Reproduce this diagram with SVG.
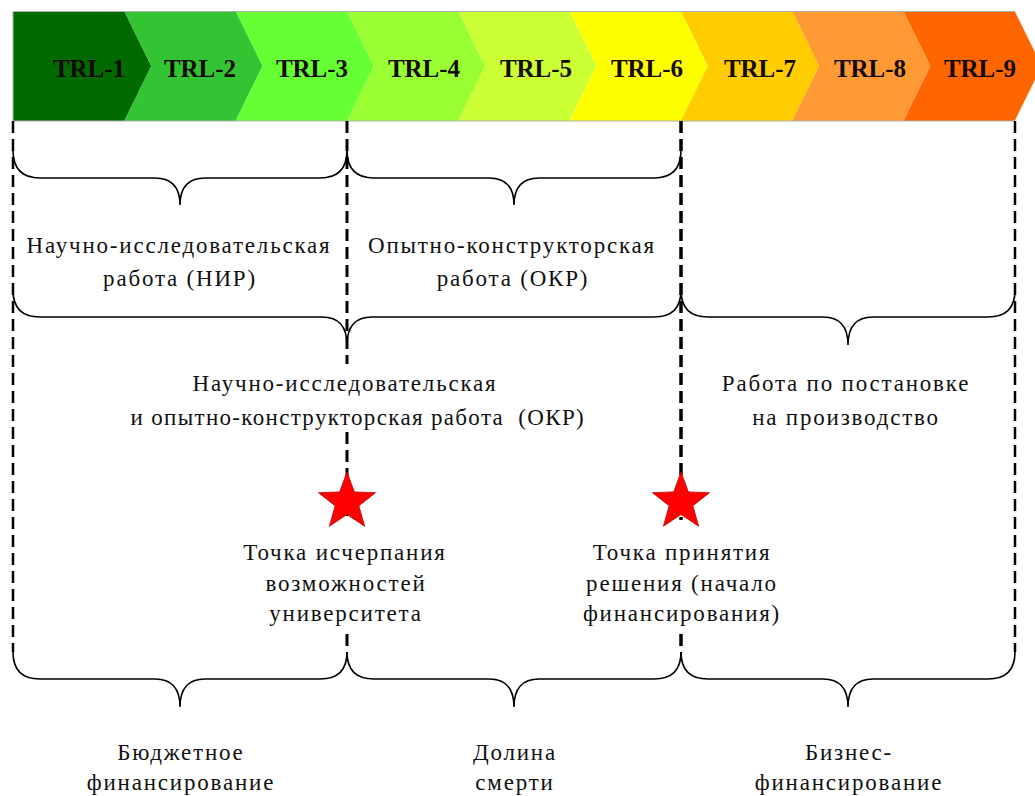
<svg xmlns="http://www.w3.org/2000/svg" width="1035" height="796" viewBox="0 0 1035 796">
<style>
.trl{font-family:'Liberation Serif','Times New Roman',serif;font-size:25px;font-weight:bold;fill:#140a00;text-anchor:middle}
.lbl{font-family:'Liberation Serif','Times New Roman',serif;font-size:23px;letter-spacing:1.8px;fill:#111;text-anchor:middle}
.dash{fill:none;stroke:#000;stroke-dasharray:12 6}
.brace{fill:none;stroke:#000;stroke-width:1.6}
.star{fill:#ff0000;stroke:#c00000;stroke-width:0.8}
</style>
<defs>
<polygon id="starShape" points="0,-30 7.35,-10.11 28.53,-9.27 11.89,3.86 17.63,24.27 0,12.5 -17.63,24.27 -11.89,3.86 -28.53,-9.27 -7.35,-10.11"/>
</defs>
<rect width="1035" height="796" fill="#fff"/>
<g id="band">
<g id="trl-1"><polygon points="13,11 124.3,11 151.3,66 124.3,121 13,121" fill="#006a00"/><text class="trl" x="89" y="77">TRL-1</text></g>
<g id="trl-2"><polygon points="124.3,11 235.6,11 262.6,66 235.6,121 124.3,121 151.3,66" fill="#33c433"/><text class="trl" x="200" y="77">TRL-2</text></g>
<g id="trl-3"><polygon points="235.6,11 346.9,11 373.9,66 346.9,121 235.6,121 262.6,66" fill="#66ff33"/><text class="trl" x="312" y="77">TRL-3</text></g>
<g id="trl-4"><polygon points="346.9,11 458.2,11 485.2,66 458.2,121 346.9,121 373.9,66" fill="#99ff33"/><text class="trl" x="424" y="77">TRL-4</text></g>
<g id="trl-5"><polygon points="458.2,11 569.5,11 596.5,66 569.5,121 458.2,121 485.2,66" fill="#ccff33"/><text class="trl" x="536" y="77">TRL-5</text></g>
<g id="trl-6"><polygon points="569.5,11 680.8,11 707.8,66 680.8,121 569.5,121 596.5,66" fill="#ffff00"/><text class="trl" x="647" y="77">TRL-6</text></g>
<g id="trl-7"><polygon points="680.8,11 792.1,11 819.1,66 792.1,121 680.8,121 707.8,66" fill="#ffcc00"/><text class="trl" x="760" y="77">TRL-7</text></g>
<g id="trl-8"><polygon points="792.1,11 903.4,11 930.4,66 903.4,121 792.1,121 819.1,66" fill="#ff9933"/><text class="trl" x="870" y="77">TRL-8</text></g>
<g id="trl-9"><polygon points="903.4,11 1014.7,11 1041.7,66 1014.7,121 903.4,121 930.4,66" fill="#ff6600"/><text class="trl" x="980" y="77">TRL-9</text></g>
<path d="M13,121 V11.5 H1015 M13,121 H1015" fill="none" stroke="#b0b0b0" stroke-width="1"/>
</g>
<g id="connectors">
<path class="dash" stroke-width="2.5" d="M13,121 V652"/>
<path class="dash" stroke-width="3" d="M347,121 V364 M347,432 V520 M347,634 V652"/>
<path class="dash" stroke-width="3.5" d="M681,121 V520 M681,634 V652"/>
<path class="dash" stroke-width="2.5" d="M1015,121 V652"/>
<path class="brace" d="M13,150 Q13,178 40,178 H155 Q180,178 180,205 Q180,178 205,178 H320 Q347,178 347,150"/>
<path class="brace" d="M347,150 Q347,178 374,178 H489 Q514,178 514,205 Q514,178 539,178 H654 Q681,178 681,150"/>
<path class="brace" d="M13,290 Q13,317 40,317 H322 Q347,317 347,345 Q347,317 372,317 H654 Q681,317 681,290"/>
<path class="brace" d="M681,290 Q681,317 708,317 H823 Q848,317 848,345 Q848,317 873,317 H988 Q1015,317 1015,290"/>
<path class="brace" d="M13,652 Q13,679 40,679 H155 Q180,679 180,707 Q180,679 205,679 H320 Q347,679 347,652"/>
<path class="brace" d="M347,652 Q347,679 374,679 H489 Q514,679 514,707 Q514,679 539,679 H654 Q681,679 681,652"/>
<path class="brace" d="M681,652 Q681,679 708,679 H823 Q848,679 848,707 Q848,679 873,679 H988 Q1015,679 1015,652"/>
</g>
<g id="label-nir">
<text class="lbl" x="179" y="253">Научно-исследовательская</text>
<text class="lbl" x="180" y="286">работа (НИР)</text>
</g>
<g id="label-okr">
<text class="lbl" x="512" y="253">Опытно-конструкторская</text>
<text class="lbl" x="513" y="286">работа (ОКР)</text>
</g>
<g id="label-niokr">
<text class="lbl" x="345" y="391">Научно-исследовательская</text>
<text class="lbl" x="358" y="425" textLength="455" lengthAdjust="spacing" xml:space="preserve">и опытно-конструкторская работа  (ОКР)</text>
</g>
<g id="label-production">
<text class="lbl" x="846" y="391">Работа по постановке</text>
<text class="lbl" x="846" y="425">на производство</text>
</g>
<g id="star-1">
<use href="#starShape" class="star" transform="translate(347,502)"/>
<text class="lbl" x="345" y="560">Точка исчерпания</text>
<text class="lbl" x="346" y="591">возможностей</text>
<text class="lbl" x="346" y="621">университета</text>
</g>
<g id="star-2">
<use href="#starShape" class="star" transform="translate(681,502)"/>
<text class="lbl" x="682" y="560">Точка принятия</text>
<text class="lbl" x="682" y="591">решения (начало</text>
<text class="lbl" x="682" y="621">финансирования)</text>
</g>
<g id="label-budget">
<text class="lbl" x="181" y="760">Бюджетное</text>
<text class="lbl" x="181" y="790">финансирование</text>
</g>
<g id="label-valley">
<text class="lbl" x="515" y="760">Долина</text>
<text class="lbl" x="515" y="790">смерти</text>
</g>
<g id="label-business">
<text class="lbl" x="849" y="760">Бизнес-</text>
<text class="lbl" x="849" y="790">финансирование</text>
</g>
</svg>
